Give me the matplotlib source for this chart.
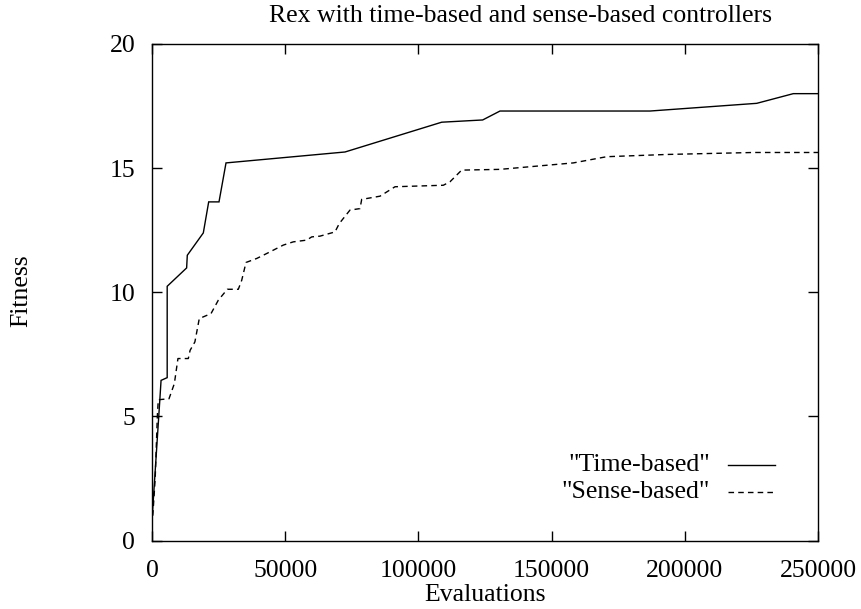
import matplotlib
matplotlib.use("Agg")
import matplotlib.pyplot as plt
from matplotlib.lines import Line2D

# Data
time_x = [100, 2900, 3400, 5700, 5700, 13000, 13250, 19260, 21280, 25150, 27780,
          72450, 108750, 124130, 130630, 186940, 227000, 240730, 250000]
time_y = [1.0, 5.6, 6.45, 6.56, 10.24, 10.98, 11.49, 12.39, 13.64, 13.64, 15.21,
          15.65, 16.85, 16.94, 17.3, 17.3, 17.61, 18.0, 18.0]

sense_x = [300, 1200, 2000, 2360, 6380, 8390, 9740, 13630, 14300, 16100, 17750, 22150,
           24890, 28270, 32400, 33670, 35290, 39290, 43050, 49290, 53040, 58070,
           59950, 63060, 68690, 70310, 74320, 78080, 78710, 85590, 91220, 109350,
           111860, 116240, 130630, 158150, 170660, 193180, 225710, 250000]
sense_y = [1.0, 2.5, 5.0, 5.67, 5.71, 6.32, 7.33, 7.33, 7.66, 8.0, 8.94, 9.14,
           9.68, 10.12, 10.12, 10.48, 11.2, 11.36, 11.56, 11.9, 12.03, 12.1,
           12.23, 12.26, 12.43, 12.77, 13.31, 13.37, 13.74, 13.87, 14.25, 14.31,
           14.45, 14.92, 14.95, 15.21, 15.46, 15.55, 15.63, 15.63]

x_ticks = [0, 50000, 100000, 150000, 200000, 250000]
y_ticks = [0, 5, 10, 15, 20]
labels = ['"Time-based"', '"Sense-based"']
title = "Rex with time-based and sense-based controllers"

plt.rcParams['font.family'] = ['Liberation Serif', 'DejaVu Serif']
FS = 18.5

W, H = 862, 609
fig = plt.figure(figsize=(W / 100, H / 100), dpi=100)
L, R, T, B = 152, 818, 44, 540.5
ax = fig.add_axes([L / W, 1 - B / H, (R - L) / W, (B - T) / H])

ax.plot(time_x, time_y, color='black', lw=1.0, solid_joinstyle='miter')
ax.plot(sense_x, sense_y, color='black', lw=1.0, linestyle=(0, (4, 3)))

ax.set_xlim(0, 250000)
ax.set_ylim(0, 20)
ax.set_xticks(x_ticks)
ax.set_yticks(y_ticks)
ax.set_xticklabels([str(v) for v in x_ticks], fontsize=FS)
ax.set_yticklabels([str(v) for v in y_ticks], fontsize=FS)
ax.tick_params(direction='in', length=7, width=1.0, top=True, right=True,
               color='black')
ax.tick_params(axis='x', pad=14)
ax.tick_params(axis='y', pad=12)
for s in ax.spines.values():
    s.set_linewidth(1.0)

# title, axis labels
fig.text(521 / W, 1 - 16 / H, title, ha='center', va='center', fontsize=FS)
fig.text(485 / W, 1 - 595 / H, "Evaluations", ha='center', va='center', fontsize=FS)
fig.text(21 / W, 1 - 291 / H, "Fitness", ha='center', va='center', rotation=90, fontsize=FS)

# legend drawn gnuplot-style
for i, (lab, ls) in enumerate(zip(labels, ['-', (0, (4, 3))])):
    yy = 465 + i * 26.7
    fig.text(710 / W, 1 - yy / H, lab, ha='right', va='center', fontsize=FS)
    fig.add_artist(Line2D([728 / W, 775 / W], [1 - yy / H, 1 - yy / H],
                          transform=fig.transFigure, color='black', lw=1.0,
                          linestyle=ls))

fig.savefig("out.png", dpi=100)
